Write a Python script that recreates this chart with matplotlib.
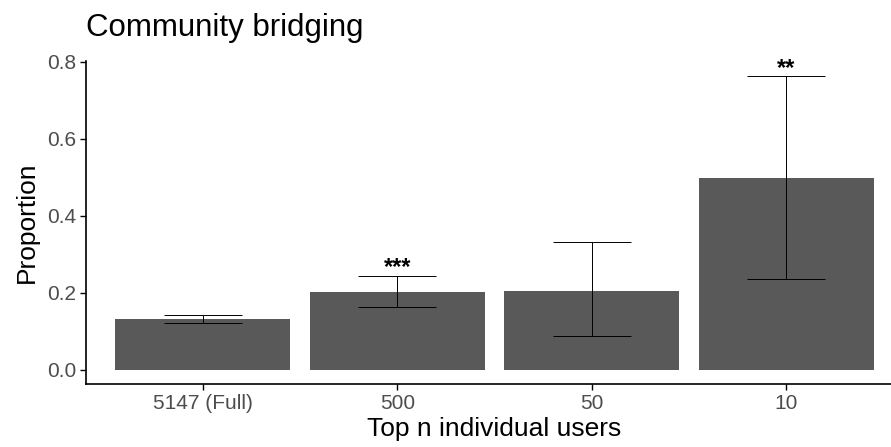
import matplotlib
matplotlib.use("Agg")
import matplotlib.pyplot as plt
import numpy as np

# values
categories = ["5147 (Full)", "500", "50", "10"]
proportion = [0.132, 0.201, 0.205, 0.499]
lower_ci = [0.122, 0.164, 0.088, 0.236]
upper_ci = [0.142, 0.244, 0.332, 0.762]
signif = ["", "***", "", "**"]

plt.rcParams["font.family"] = ["Liberation Sans", "DejaVu Sans"]

fig = plt.figure(figsize=(8.91, 4.47), dpi=100)
ax = fig.add_axes([86 / 891, 1 - 384 / 447, (903 - 86) / 891, (384 - 61) / 447])

x = np.arange(len(categories)) + 1
prop = np.array(proportion)
lo = np.array(lower_ci)
hi = np.array(upper_ci)

ax.bar(x, prop, width=0.9, color="#595959", zorder=1)
ax.errorbar(
    x,
    prop,
    yerr=[prop - lo, hi - prop],
    fmt="none",
    ecolor="black",
    elinewidth=0.7,
    capsize=0,
    zorder=2,
)
# caps drawn as short lines, width 0.4 in data units like ggplot
ax.hlines(lo, x - 0.2, x + 0.2, color="black", linewidth=0.7, zorder=2)
ax.hlines(hi, x - 0.2, x + 0.2, color="black", linewidth=0.7, zorder=2)

for xi, top, s in zip(x, hi, signif):
    if s:
        ax.annotate(
            s,
            (xi, top),
            xytext=(0, 1),
            textcoords="offset points",
            ha="center",
            va="baseline",
            fontsize=17,
            fontweight="bold",
            color="black",
        )

ax.set_xlim(0.4, 4.6)
ax.set_ylim(-0.037, 0.802)
ax.set_xticks(x)
ax.set_xticklabels(categories)
ax.set_yticks([0.0, 0.2, 0.4, 0.6, 0.8])
ax.set_yticklabels(["0.0", "0.2", "0.4", "0.6", "0.8"])

for side in ["top", "right"]:
    ax.spines[side].set_visible(False)
for side in ["left", "bottom"]:
    ax.spines[side].set_linewidth(1.2)
ax.tick_params(axis="both", length=4, width=1.0, color="black",
               labelsize=15, labelcolor="#4D4D4D", pad=3)

ax.set_xlabel("Top n individual users", fontsize=19, labelpad=3)
ax.set_ylabel("Proportion", fontsize=19, labelpad=6)
fig.text(86 / 891, 1 - 28 / 447, "Community bridging", fontsize=22.5,
         ha="left", va="center")

fig.savefig("out.png", dpi=100)
